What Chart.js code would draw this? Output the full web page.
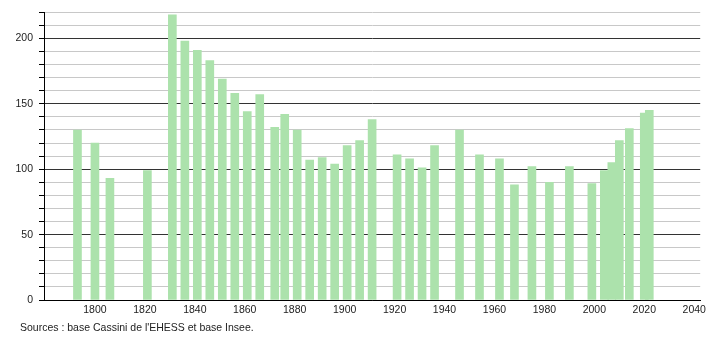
<!DOCTYPE html>
<html>
<head>
<meta charset="utf-8">
<script src="https://cdn.jsdelivr.net/npm/chart.js@4/dist/chart.umd.min.js"></script>
<style>
  body { margin: 0; background: #fff; }
  #wrap { position: relative; width: 710px; height: 340px; }
  #source { position: absolute; left: 20px; top: 321px; font: 10.5px "Liberation Sans", Arial, sans-serif; color: #222; }
</style>
</head>
<body>
<div id="wrap">
  <canvas id="popChart" width="710" height="340"></canvas>
  <div id="source">Sources : base Cassini de l'EHESS et base Insee.</div>
</div>
<script>
// recensements (annee / habitants)
var years = [1793, 1800, 1806, 1821, 1831, 1836, 1841, 1846, 1851, 1856,
             1861, 1866, 1872, 1876, 1881, 1886, 1891, 1896, 1901, 1906,
             1911, 1921, 1926, 1931, 1936, 1946, 1954, 1962, 1968, 1975,
             1982, 1990, 1999, 2004, 2007, 2010, 2014, 2020, 2022];
var population = [130, 120, 93, 99, 218, 198, 191, 183, 169, 158,
                  144, 157, 132, 142, 130, 107, 109, 104, 118, 122,
                  138, 111, 108, 101, 118, 130, 111, 108, 88, 102,
                  90, 102, 89, 99, 105, 122, 131, 143, 145];
var xTickLabels = [1800, 1820, 1840, 1860, 1880, 1900, 1920, 1940, 1960, 1980, 2000, 2020, 2040];
var yTickLabels = [0, 50, 100, 150, 200];

var points = [];
for (var i = 0; i < years.length; i++) {
    points.push({ x: years[i], y: population[i] });
}

var font = { family: "'Liberation Sans', Arial, sans-serif", size: 10.5 };

var ctx = document.getElementById("popChart").getContext("2d");
var chart = new Chart(ctx, {
    type: 'bar',
    data: {
        datasets: [{
            data: points,
            backgroundColor: 'rgb(172,226,172)',
            borderWidth: 0,
            barThickness: 8
        }]
    },
    options: {
        responsive: false,
        animation: false,
        layout: { padding: { left: 0, right: 9, top: 10, bottom: 20 } },
        plugins: { legend: { display: false }, tooltip: { enabled: false } },
        scales: {
            x: {
                type: 'linear',
                min: 1779.6,
                max: 2042.4,
                offset: false,
                grid: { display: true, offset: false, drawOnChartArea: false, drawTicks: false },
                border: { color: '#000', width: 1 },
                ticks: { stepSize: 20, padding: 4, color: '#222', font: font, maxRotation: 0,
                         callback: function(v) { return String(v); } },
                afterBuildTicks: function(scale) {
                    scale.ticks = xTickLabels.map(function(v) { return { value: v }; });
                },
                afterFit: function(scale) { scale.height = 20; }
            },
            y: {
                min: 0,
                max: 220,
                grid: {
                    color: function(c) { return (c.tick && c.tick.value % 50 === 0) ? '#333' : '#c8c8c8'; },
                    tickColor: '#000',
                    tickLength: 5,
                    lineWidth: 1
                },
                border: { color: '#000', width: 1 },
                ticks: {
                    stepSize: 10,
                    padding: 6,
                    color: '#222',
                    font: font,
                    autoSkip: false,
                    callback: function(v) { return yTickLabels.indexOf(v) >= 0 ? String(v) : ''; }
                },
                afterFit: function(scale) { scale.width = 44; }
            }
        }
    }
});
</script>
</body>
</html>
